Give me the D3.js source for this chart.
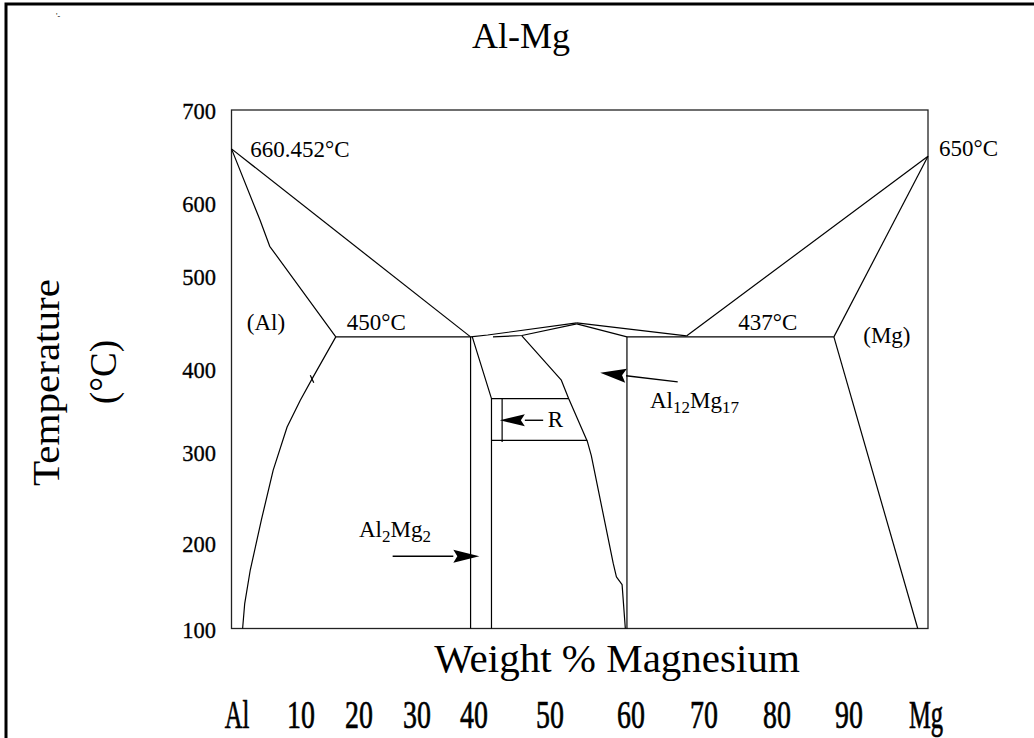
<!DOCTYPE html>
<html><head><meta charset="utf-8">
<script src="https://cdn.jsdelivr.net/npm/d3@7"></script>
<style>
body{margin:0;background:#fff}
svg{display:block}
</style>
</head><body>
<svg id="c" width="1034" height="738" font-family="Liberation Serif, Times New Roman, Times, serif"></svg>
<script>
// ---------------- data ----------------
const xTickValues = [0,10,20,30,40,50,60,70,80,90,100];
const xTickLabels = ["Al","10","20","30","40","50","60","70","80","90","Mg"];
const yTickValues = [100,200,300,400,500,600,700];

// phase boundaries: [wt% Mg, temperature °C]
const alSolidus      = [[0,658],[4.1,576],[5.5,540],[16,434]];
const alLiquidus     = [[0,658],[39.4,434]];
const alSolvus       = [[16,434],[12.1,390],[9.9,362],[8.0,330],[6.0,280],[4.3,225],[2.7,168],[1.9,129],[1.6,100]];
const alSolvusTick   = [[11.6,392],[12.2,383]];
const eutecticAl     = [[16,434],[39.4,434]];
const betaLeft       = [[39.4,434],[39.4,100]];
const betaRight      = [[39.7,434],[42.3,364],[42.3,100]];
const gammaLiquidusL = [[39.4,434],[41.8,436],[53.3,449]];
const gammaSolidusL  = [[42.5,434],[46.3,435.5],[53.3,448]];
const gammaSolidusR  = [[53.3,448],[59.5,434]];
const gammaLiquidusR = [[53.3,449],[67.6,435]];
const gammaLeft      = [[46.3,435],[51.4,386],[52.3,364],[54.6,313],[55.1,296],[57.8,176],[58.2,160],[58.9,151],[59.3,100]];
const gammaRight     = [[59.5,434],[59.5,100]];
const eutecticMg     = [[59.5,434],[87.9,434]];
const mgLiquidus     = [[100,650],[67.6,435]];
const mgSolidus      = [[100,650],[87.9,434]];
const mgSolvus       = [[87.9,434],[98.7,100]];
const rBoxTop        = [[42.3,364],[52.3,364]];
const rBoxBottom     = [[42.3,314],[54.6,314]];
const rInner         = [[43.7,364],[43.7,312]];

// arrows: [tail, tip]
const arrowR        = [[49.1,338],[43.4,338]];
const arrowAl2Mg2   = [[25.8,184],[40.7,184]];
const arrowAl12Mg17 = [[66.4,384],[56.2,395]];

// annotation texts anchored at [wt% Mg, °C]
const notes = [
  {parts:[["660.452°C"]], at:[2.7,649.5]},
  {parts:[["650°C"]], at:[101.4,650]},
  {parts:[["(Al)"]], at:[2.2,441.5]},
  {parts:[["450°C"]], at:[17.9,441.5]},
  {parts:[["437°C"]], at:[74.7,441.5]},
  {parts:[["(Mg)"]], at:[91.8,427.5]},
  {parts:[["R"]], at:[49.7,330]},
  {parts:[["Al"],["12",1],["Mg"],["17",1]], at:[62.6,352.7]},
  {parts:[["Al"],["2",1],["Mg"],["2",1]], at:[20,206]}
];
const title = "Al-Mg";
const xTitle = "Weight % Magnesium";
const yTitle = ["Temperature","(°C)"];

// ---------------- drawing ----------------
const FONT = "'Liberation Serif', 'Times New Roman', Times, serif";
const svg = d3.select("#c");
const x = d3.scaleLinear().domain(xTickValues).range([231.5,301,359,417,474,550,631,704,777,849,928]);
const y = d3.scaleLinear().domain(yTickValues).range([628.5,542.5,452,368.5,275.5,202.5,110]);

// outer frame (only left & top edges visible)
svg.append("rect").attr("x",6).attr("y",4).attr("width",1200).attr("height",900)
  .attr("fill","none").attr("stroke","#000").attr("stroke-width",3);

// tiny mark top-left
svg.append("text").attr("x",56).attr("y",19).attr("font-family",FONT).attr("font-size",8).text("'-");

// plot box
svg.append("rect").attr("x",x(0)).attr("y",y(700))
  .attr("width",x(100)-x(0)).attr("height",y(100)-y(700))
  .attr("fill","none").attr("stroke","#222").attr("stroke-width",1.3);

const line = d3.line().x(d=>x(d[0])).y(d=>y(d[1]));
const lines = [alSolidus,alLiquidus,alSolvus,alSolvusTick,eutecticAl,betaLeft,betaRight,gammaLiquidusL,
  gammaSolidusL,gammaSolidusR,gammaLiquidusR,gammaLeft,gammaRight,eutecticMg,
  mgLiquidus,mgSolidus,mgSolvus,rBoxTop,rBoxBottom,rInner];
svg.append("g").selectAll("path").data(lines).join("path")
  .attr("d",line).attr("fill","none").attr("stroke","#000").attr("stroke-width",1.2)
  .attr("stroke-linejoin","round");

// arrows
function arrow(a, headLen, halfW){
  const x0=x(a[0][0]), y0=y(a[0][1]), x1=x(a[1][0]), y1=y(a[1][1]);
  const dx=x1-x0, dy=y1-y0, L=Math.hypot(dx,dy), ux=dx/L, uy=dy/L;
  const bx=x1-ux*headLen, by=y1-uy*headLen;
  svg.append("line").attr("x1",x0).attr("y1",y0).attr("x2",bx).attr("y2",by)
    .attr("stroke","#000").attr("stroke-width",1.4);
  svg.append("path").attr("d",`M${x1},${y1}L${bx-uy*halfW},${by+ux*halfW}L${bx+ux*4},${by+uy*4}L${bx+uy*halfW},${by-ux*halfW}Z`)
    .attr("fill","#000");
}
arrow(arrowR,25,6);
arrow(arrowAl2Mg2,26,6.5);
arrow(arrowAl12Mg17,26,7);

// annotations
notes.forEach(n=>{
  const t = svg.append("text").attr("x",x(n.at[0])).attr("y",y(n.at[1]))
    .attr("font-family",FONT).attr("font-size",23);
  let shifted=false;
  n.parts.forEach(p=>{
    const s = t.append("tspan").text(p[0]);
    if(p[1]){ s.attr("font-size",17).attr("dy",5); shifted=true; }
    else if(shifted){ s.attr("dy",-5); shifted=false; }
  });
});

// y tick labels
svg.append("g").selectAll("text").data(yTickValues).join("text")
  .attr("x",216).attr("y",d=>y(d)+9.3).attr("text-anchor","end")
  .attr("font-family",FONT).attr("font-size",22.5)
  .attr("stroke","#000").attr("stroke-width",0.3)
  .text(d=>d);

// x tick labels (condensed)
svg.append("g").selectAll("text").data(xTickValues).join("text")
  .attr("transform",(d,i)=>{
    const lab=xTickLabels[i];
    const sx = isNaN(+lab) ? 0.6 : (lab==="Mg" ? 0.95 : 0.68);
    const cx = x(d) + (i===0?5.5:(i===xTickValues.length-1?-2:0));
    return `translate(${cx},728) scale(${sx},1)`;
  })
  .attr("text-anchor","middle").attr("font-family",FONT).attr("font-size",41)
  .attr("stroke","#000").attr("stroke-width",0.7)
  .text((d,i)=>xTickLabels[i]);

// axis titles
svg.append("text").attr("x",617).attr("y",672).attr("text-anchor","middle")
  .attr("font-family",FONT).attr("font-size",41).text(xTitle);
svg.append("text").attr("transform","translate(58.5,382.5) rotate(-90)")
  .attr("text-anchor","middle").attr("font-family",FONT).attr("font-size",37)
  .attr("textLength",207).attr("lengthAdjust","spacingAndGlyphs").text(yTitle[0]);
svg.append("text").attr("transform","translate(116,372) rotate(-90)")
  .attr("text-anchor","middle").attr("font-family",FONT).attr("font-size",37).text(yTitle[1]);

// title
svg.append("text").attr("x",472).attr("y",48).attr("font-family",FONT).attr("font-size",36).text(title);
</script>
</body></html>
